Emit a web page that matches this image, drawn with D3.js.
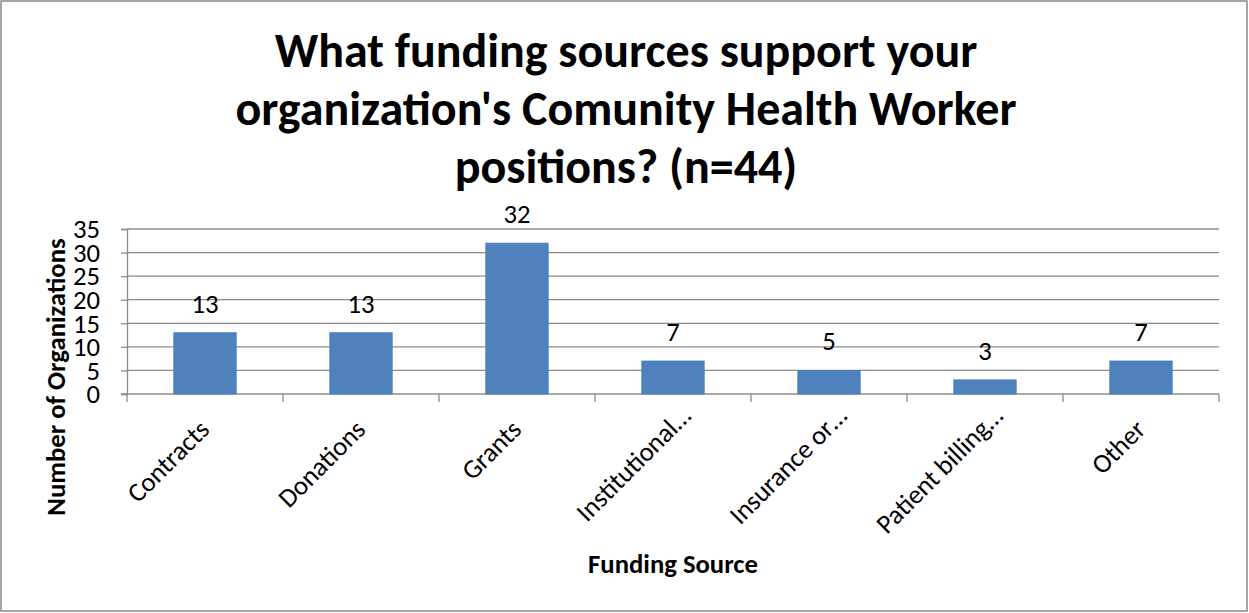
<!DOCTYPE html>
<meta charset="utf-8">
<style>
body { margin: 0; background: #fff; }
text { font-family: Carlito, Calibri, "Open Sans", "Liberation Sans", sans-serif; fill: #000; }
.grid line { stroke: #8c8c8c; stroke-width: 1.3px; }
.axis path, .axis line { stroke: #8c8c8c; stroke-width: 1.3px; }
</style>
<svg width="1249" height="613"></svg>
<script src="https://cdn.jsdelivr.net/npm/d3@7"></script>
<script>

var categories = ["Contracts", "Donations", "Grants", "Institutional\u2026", "Insurance or\u2026", "Patient billing\u2026", "Other"];
var counts = [13, 13, 32, 7, 5, 3, 7];
var yTicks = [0, 5, 10, 15, 20, 25, 30, 35];
var titleLines = ["What funding sources support your", "organization's Comunity Health Worker", "positions? (n=44)"];

var svg = d3.select("svg"),
    width = +svg.attr("width"),
    height = +svg.attr("height");

var plot = {left: 127, right: 1219, top: 229, bottom: 394};
var labelSize = "26.7px";

// outer frame
svg.append("rect")
    .attr("x", 1).attr("y", 1)
    .attr("width", width - 3).attr("height", height - 3)
    .attr("fill", "#fff")
    .attr("stroke", "#898989")
    .attr("stroke-width", 1.5);

var x = d3.scaleBand()
    .domain(categories)
    .range([plot.left, plot.right])
    .paddingInner(0.6)
    .paddingOuter(0.3);

var xOuter = d3.scaleBand()
    .domain(categories)
    .range([plot.left, plot.right]);

var y = d3.scaleLinear()
    .domain([0, 35])
    .range([plot.bottom, plot.top]);

// gridlines
svg.append("g")
    .attr("class", "grid")
  .selectAll("line")
  .data(yTicks.slice(1))
  .enter().append("line")
    .attr("x1", plot.left).attr("x2", plot.right)
    .attr("y1", function(d) { return y(d); })
    .attr("y2", function(d) { return y(d); });

// y axis
var yAxis = svg.append("g")
    .attr("class", "axis")
    .attr("transform", "translate(" + plot.left + ",0)")
    .call(d3.axisLeft(y).tickValues(yTicks).tickSize(6).tickPadding(4));
yAxis.attr("font-size", null).attr("font-family", null);
yAxis.selectAll("text").style("font-size", labelSize).attr("dy", "0.33em").attr("x", -27);

// x axis line + ticks at category boundaries
var xg = svg.append("g").attr("class", "axis");
xg.append("line")
    .attr("x1", plot.left - 6).attr("x2", plot.right)
    .attr("y1", plot.bottom).attr("y2", plot.bottom);
xg.selectAll(".tk")
  .data(categories.concat(["__end"]))
  .enter().append("line")
    .attr("class", "tk")
    .attr("x1", function(d, i) { return plot.left + i * xOuter.bandwidth(); })
    .attr("x2", function(d, i) { return plot.left + i * xOuter.bandwidth(); })
    .attr("y1", plot.bottom).attr("y2", plot.bottom + 8);

// bars
svg.selectAll(".bar")
  .data(counts)
  .enter().append("rect")
    .attr("class", "bar")
    .attr("x", function(d, i) { return x(categories[i]); })
    .attr("width", x.bandwidth())
    .attr("y", function(d) { return y(d); })
    .attr("height", function(d) { return y(0) - y(d); })
    .attr("fill", "#4f81bd")
    .attr("stroke", "#4a7ebb")
    .attr("stroke-width", 0.8);

// value labels
svg.selectAll(".val")
  .data(counts)
  .enter().append("text")
    .attr("class", "val")
    .attr("x", function(d, i) { return x(categories[i]) + x.bandwidth() / 2; })
    .attr("y", function(d) { return y(d) - 20; })
    .attr("text-anchor", "middle")
    .style("font-size", labelSize)
    .text(function(d) { return d; });

// category labels, rotated; truncated ones sit a little further out (as Excel does)
svg.selectAll(".cat")
  .data(categories)
  .enter().append("text")
    .attr("class", "cat")
    .attr("text-anchor", "end")
    .attr("transform", function(d) {
      var cx = xOuter(d) + xOuter.bandwidth() / 2 + 6;
      return "translate(" + cx + "," + (plot.bottom + 37) + ") rotate(-45)";
    })
    .attr("dx", function(d) { return d.slice(-1) === "\u2026" ? 19 : 0; })
    .style("font-size", labelSize)
    .text(function(d) { return d; });

// title
svg.append("text")
    .attr("text-anchor", "middle")
    .style("font-size", "48px")
    .style("font-weight", "bold")
  .selectAll("tspan")
  .data(titleLines)
  .enter().append("tspan")
    .attr("x", 626)
    .attr("y", function(d, i) { return 67 + i * 58; })
    .text(function(d) { return d; });

// axis titles
svg.append("text")
    .attr("text-anchor", "middle")
    .attr("transform", "translate(65,377) rotate(-90)")
    .style("font-size", labelSize)
    .style("font-weight", "bold")
    .text("Number of Organizations");

svg.append("text")
    .attr("x", 673)
    .attr("y", 573)
    .attr("text-anchor", "middle")
    .style("font-size", labelSize)
    .style("font-weight", "bold")
    .text("Funding Source");

</script>
